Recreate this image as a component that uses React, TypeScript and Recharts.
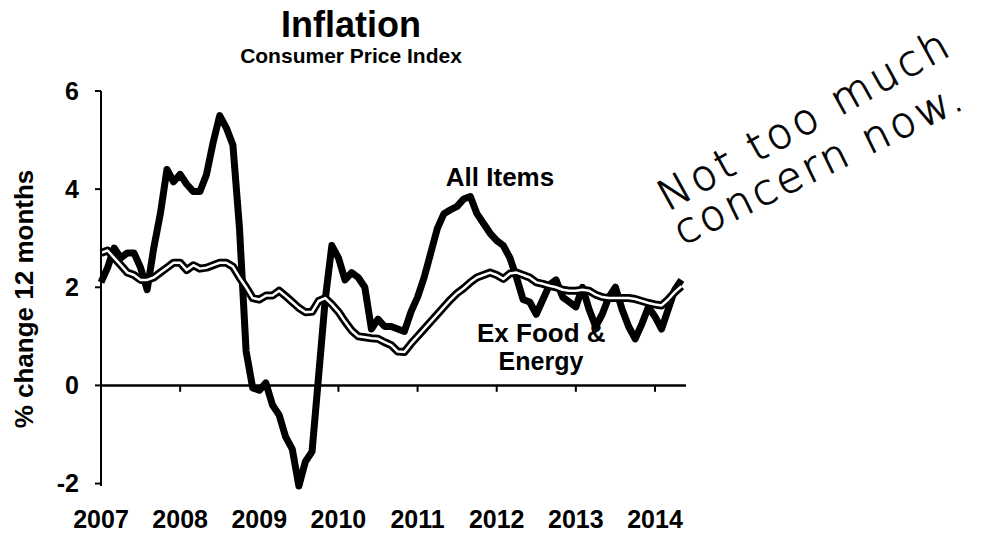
import React from 'react';
import { LineChart, Line, XAxis, YAxis, ReferenceLine } from 'recharts';

// months since Jan 2007 at which each year starts
const yearTicks = [0, 12, 24, 36, 48, 60, 72, 84];
const yearLabels = ['2007', '2008', '2009', '2010', '2011', '2012', '2013', '2014'];
const yTicks = [-2, 0, 2, 4, 6];

// CPI all items, % change over 12 months, monthly Jan 2007 .. May 2014
const allItems = [
  2.1, 2.4, 2.8, 2.6, 2.7, 2.7, 2.4, 1.95, 2.8, 3.5, 4.4, 4.15,
  4.3, 4.1, 3.95, 3.95, 4.3, 4.95, 5.5, 5.25, 4.9, 3.2, 0.7, -0.05,
  -0.1, 0.05, -0.4, -0.6, -1.05, -1.3, -2.05, -1.55, -1.35, 0.2, 1.75, 2.85,
  2.6, 2.15, 2.3, 2.2, 2.0, 1.15, 1.35, 1.2, 1.2, 1.15, 1.1, 1.5,
  1.8, 2.2, 2.7, 3.2, 3.5, 3.58, 3.65, 3.8, 3.85, 3.5, 3.3, 3.1,
  2.95, 2.85, 2.6, 2.2, 1.75, 1.7, 1.45, 1.75, 2.05, 2.15, 1.8, 1.7,
  1.6, 2.0, 1.55, 1.2, 1.45, 1.8, 2.0, 1.55, 1.2, 0.95, 1.25, 1.6,
  1.4, 1.15, 1.55, 1.95, 2.15,
];

// CPI excluding food & energy
const exFoodEnergy = [
  2.7, 2.75, 2.6, 2.45, 2.3, 2.25, 2.15, 2.15, 2.2, 2.3, 2.4, 2.5,
  2.5, 2.35, 2.45, 2.38, 2.4, 2.45, 2.5, 2.5, 2.42, 2.2, 2.0, 1.78,
  1.75, 1.83, 1.83, 1.93, 1.82, 1.7, 1.58, 1.49, 1.5, 1.72, 1.78, 1.65,
  1.5, 1.3, 1.12, 1.0, 0.98, 0.96, 0.95, 0.88, 0.82, 0.69, 0.68, 0.85,
  1.0, 1.15, 1.3, 1.45, 1.6, 1.75, 1.88, 1.98, 2.1, 2.2, 2.25, 2.3,
  2.25, 2.17, 2.28, 2.3, 2.25, 2.2, 2.1, 2.07, 2.03, 2.0, 1.95, 1.93,
  1.93, 1.95, 1.93, 1.85, 1.8, 1.78, 1.78, 1.78, 1.78, 1.76, 1.72, 1.68,
  1.65, 1.63, 1.75, 1.9, 2.02,
];

const data = allItems.map((v, i) => ({
  t: i,
  all: v,
  core: exFoodEnergy[i],
  coreInner: exFoodEnergy[i],
}));

const FONT = '"Liberation Sans", Arial, Helvetica, sans-serif';
const HAND = '"DejaVu Sans", "Open Sans", sans-serif';

export default function App() {
  const tickStyle = { fill: '#000', fontSize: 25, fontWeight: 700, fontFamily: FONT };
  return (
    <div style={{ position: 'absolute', left: 0, top: 0, width: 981, height: 533, background: '#fff' }}>
      <svg width={981} height={533} style={{ position: 'absolute', left: 0, top: 0 }}>
        <text x={351} y={37} textAnchor="middle" fontFamily={FONT} fontWeight={700} fontSize={36} fill="#000">Inflation</text>
        <text x={351} y={63} textAnchor="middle" fontFamily={FONT} fontWeight={700} fontSize={21} fill="#000">Consumer Price Index</text>
        <text x={33} y={299} transform="rotate(-90 33 299)" textAnchor="middle" fontFamily={FONT} fontWeight={700} fontSize={26} fill="#000">% change 12 months</text>
        <text x={500} y={186} textAnchor="middle" fontFamily={FONT} fontWeight={700} fontSize={26} fill="#000">All Items</text>
        <text x={477} y={342} textAnchor="start" fontFamily={FONT} fontWeight={700} fontSize={26} fill="#000">Ex Food &amp;</text>
        <text x={541} y={370} textAnchor="middle" fontFamily={FONT} fontWeight={700} fontSize={25} fill="#000">Energy</text>
        <text x={810} y={133} transform="rotate(-29 810 133)" textAnchor="middle" fontFamily={HAND} fontWeight={200} fontSize={42} stroke="#000" strokeWidth={0.8} textLength={325} lengthAdjust="spacing" fill="#000">Not too much</text>
        <text x={824} y={177} transform="rotate(-26 824 177)" textAnchor="middle" fontFamily={HAND} fontWeight={200} fontSize={42} stroke="#000" strokeWidth={0.8} textLength={315} lengthAdjust="spacing" fill="#000">concern now.</text>
      </svg>
      <div style={{ position: 'absolute', left: 0, top: 0 }}>
        <LineChart width={981} height={533} data={data} margin={{ top: 91, right: 295, bottom: 17, left: 41 }}>
          <XAxis
            type="number"
            dataKey="t"
            domain={[0, 88.7]}
            ticks={yearTicks}
            tickFormatter={(v: number) => yearLabels[yearTicks.indexOf(v)]}
            axisLine={false}
            tickLine={false}
            tickSize={6}
            tickMargin={18}
            height={30}
            tick={tickStyle}
            interval={0}
          />
          <YAxis
            type="number"
            domain={[-2, 6]}
            ticks={yTicks}
            width={60}
            axisLine={{ stroke: '#000', strokeWidth: 2 }}
            tickLine={{ stroke: '#000', strokeWidth: 2 }}
            tickSize={6}
            tickMargin={16}
            tick={tickStyle}
            interval={0}
          />
          <ReferenceLine y={0} stroke="#000" strokeWidth={2.5} />
          {yearTicks.slice(1).map((t) => (
            <ReferenceLine key={t} segment={[{ x: t, y: 0 }, { x: t, y: -0.13 }]} stroke="#000" strokeWidth={2} />
          ))}
          <Line type="linear" dataKey="all" stroke="#000" strokeWidth={7} dot={false} isAnimationActive={false} strokeLinejoin="round" />
          <Line type="linear" dataKey="core" stroke="#000" strokeWidth={8} dot={false} isAnimationActive={false} strokeLinejoin="round" />
          <Line type="linear" dataKey="coreInner" stroke="#fff" strokeWidth={2.5} dot={false} isAnimationActive={false} strokeLinejoin="round" />
        </LineChart>
      </div>
    </div>
  );
}
